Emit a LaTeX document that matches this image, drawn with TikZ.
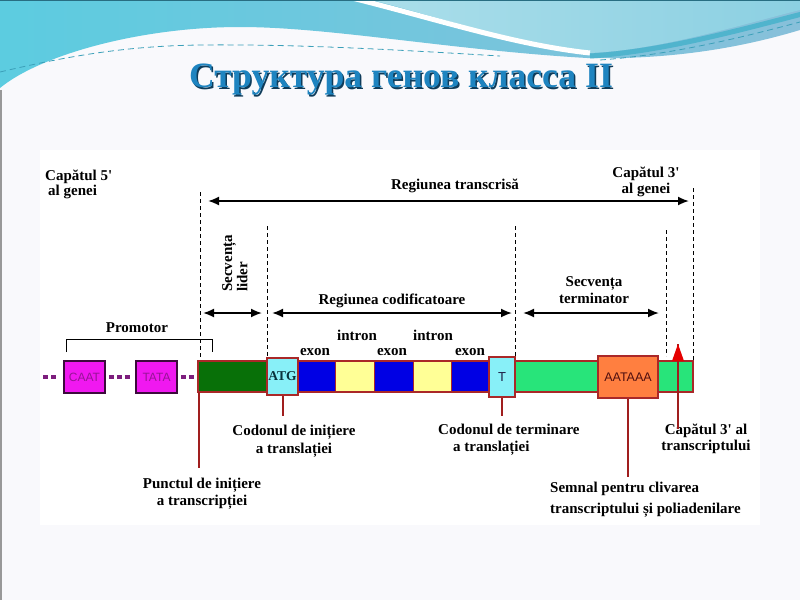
\documentclass[tikz,border=0pt]{standalone}
\usepackage{fontspec}
\setmainfont{Liberation Serif}[Ligatures=TeXOff]
\newfontfamily\sansf{Liberation Sans}
\usetikzlibrary{arrows.meta}
\definecolor{bgcol}{RGB}{249,249,252}
\definecolor{tealA}{RGB}{92,204,224}
\definecolor{tealB}{RGB}{136,192,218}
\definecolor{lcyanA}{RGB}{170,222,234}
\definecolor{lcyanB}{RGB}{140,208,226}
\definecolor{stripe}{RGB}{80,180,205}
\definecolor{dashteal}{RGB}{60,160,185}
\definecolor{topline}{RGB}{40,110,130}
\definecolor{titleblue}{RGB}{30,132,192}
\definecolor{titleshadow}{RGB}{15,60,90}
\definecolor{barred}{RGB}{170,40,40}
\definecolor{linkred}{RGB}{160,30,30}
\definecolor{dkgreen}{RGB}{8,112,8}
\definecolor{exblue}{RGB}{0,0,228}
\definecolor{inyellow}{RGB}{255,255,150}
\definecolor{codcyan}{RGB}{136,240,248}
\definecolor{brgreen}{RGB}{40,228,122}
\definecolor{sigorange}{RGB}{255,127,64}
\definecolor{magbox}{RGB}{240,24,240}
\definecolor{magtext}{RGB}{150,20,150}
\definecolor{dashpurple}{RGB}{125,30,125}
\definecolor{magborder}{RGB}{60,10,60}
\tikzset{
  lab/.style={font=\bfseries\fontsize{15}{17}\selectfont, inner sep=0pt, text=black},
  vdash/.style={draw=black, line width=0.8pt, dash pattern=on 4pt off 3pt},
  dimarrow/.style={draw=black, line width=1.8pt, {Latex[length=11pt,width=9pt]}-{Latex[length=11pt,width=9pt]}},
  link/.style={draw=linkred, line width=2pt},
  segm/.style={draw=barred, line width=1pt},
  codbox/.style={draw=barred, line width=2pt, inner sep=0pt},
  promobox/.style={draw=magborder, line width=1.5pt, fill=magbox, inner sep=0pt, minimum width=41pt, minimum height=32pt, text=magtext, font=\sansf\fontsize{12}{14}\selectfont},
  promdash/.style={draw=dashpurple, line width=3.5pt, dash pattern=on 5pt off 3pt}
}
\begin{document}
\begin{tikzpicture}[x=1pt,y=-1pt]
\useasboundingbox (0,0) rectangle (800,600);
% background
\fill[bgcol] (0,0) rectangle (800,600);
\fill[white] (40,150) rectangle (760,525);
\draw[gray!80, line width=2pt] (1,90) -- (1,600);
% top wave
\shade[left color=tealA, right color=tealB] (0,0) -- (800,0) -- (800,30)
  .. controls (750,45) and (680,60) .. (587,58)
  .. controls (450,50) and (330,27) .. (240,27)
  .. controls (140,27) and (40,55) .. (0,88) -- cycle;
\shade[left color=lcyanA, right color=lcyanB] (372,0) -- (800,0) -- (800,10)
  .. controls (740,25) and (660,50) .. (590,53)
  .. controls (520,45) and (450,20) .. (372,0) -- cycle;
\draw[white, line width=5pt] (352,-2) .. controls (440,20) and (515,45) .. (590,53);
\draw[stripe, line width=5pt] (590,56) .. controls (660,52) and (740,30) .. (802,14);
\draw[dashteal, line width=0.8pt, dash pattern=on 6pt off 4pt] (0,72) .. controls (60,58) and (120,46) .. (200,45) .. controls (300,44) and (400,50) .. (500,56);
\draw[dashteal, line width=0.8pt, dash pattern=on 6pt off 4pt] (600,60) .. controls (670,55) and (740,38) .. (800,22);
\draw[topline, line width=1.5pt] (0,0.5) -- (800,0.5);
% title
\node[font=\bfseries\fontsize{35.6}{40}\selectfont, text=titleshadow] (titlesh) at (402.5,81.5) {Структура генов класса II};
\node[font=\bfseries\fontsize{35.6}{40}\selectfont, text=titleblue] (title) at (401,80) {Структура генов класса II};

% header labels
\node[lab, align=left, anchor=north west, font=\bfseries\fontsize{15}{15}\selectfont] (cap5) at (45,169.5) {Capătul 5'\\\hspace{3pt}al genei};
\node[lab, align=center, anchor=north, font=\bfseries\fontsize{15}{16}\selectfont] (cap3) at (646,166.5) {Capătul 3'\\al genei};
\node[lab, anchor=base] (transc) at (455,189) {Regiunea transcrisă};
\node[lab, rotate=90, align=left, anchor=north west, font=\bfseries\fontsize{15}{13}\selectfont] (lider) at (222,292) {Secvența\\lider};
\node[lab, anchor=base] (codif) at (392,304) {Regiunea codificatoare};
\node[lab, align=center, anchor=north, font=\bfseries\fontsize{15}{17}\selectfont] (term) at (594,276.5) {Secvența\\terminator};
\node[lab, anchor=base] (promo) at (137,332) {Promotor};

% vertical dashed lines
\coordinate (v1t) at (200,192); \coordinate (v1b) at (200,358);
\coordinate (v2t) at (267,226); \coordinate (v2b) at (267,358);
\coordinate (v3t) at (515,226); \coordinate (v3b) at (515,357);
\coordinate (v4t) at (666,230); \coordinate (v4b) at (666,356);
\coordinate (v5t) at (693,188); \coordinate (v5b) at (693,361);
\draw[vdash] (v1t) -- (v1b);
\draw[vdash] (v2t) -- (v2b);
\draw[vdash] (v3t) -- (v3b);
\draw[vdash] (v4t) -- (v4b);
\draw[vdash] (v5t) -- (v5b);

% dimension arrows
\coordinate (a1l) at (208,201); \coordinate (a1r) at (689,201);
\coordinate (a2l) at (203,313); \coordinate (a2r) at (262,313);
\coordinate (a3l) at (272,313); \coordinate (a3r) at (512,313);
\coordinate (a4l) at (523,313); \coordinate (a4r) at (659,313);
\draw[dimarrow] (a1l) -- (a1r);
\draw[dimarrow] (a2l) -- (a2r);
\draw[dimarrow] (a3l) -- (a3r);
\draw[dimarrow] (a4l) -- (a4r);

% promoter bracket
\coordinate (pb1) at (66,352); \coordinate (pb2) at (66,339);
\coordinate (pb3) at (212,339); \coordinate (pb4) at (212,352);
\draw[black, line width=1pt] (pb1) -- (pb2) -- (pb3) -- (pb4);

% promoter elements
\node[promobox] (caat) at (84.5,377) {CAAT};
\node[promobox] (tata) at (156.5,377) {TATA};
\coordinate (d0) at (43,377);
\coordinate (d3) at (194,377);
\draw[promdash] (d0) -- ([xshift=-7pt]caat.west);
\draw[promdash] ([xshift=3pt]caat.east) -- ([xshift=-5pt]tata.west);
\draw[promdash] ([xshift=3pt]tata.east) -- (d3);

% gene bar
\filldraw[segm, fill=brgreen] (489,361) rectangle (693,392);
\filldraw[segm, fill=dkgreen] (198,361) rectangle (267,392);
\filldraw[segm, fill=exblue] (298,361) rectangle (335,392);
\filldraw[segm, fill=inyellow] (335,361) rectangle (374,392);
\filldraw[segm, fill=exblue] (374,361) rectangle (413,392);
\filldraw[segm, fill=inyellow] (413,361) rectangle (451,392);
\filldraw[segm, fill=exblue] (451,361) rectangle (489,392);
\draw[barred, line width=2pt] (198,361) rectangle (693,392);

\node[codbox, fill=codcyan, minimum width=31pt, minimum height=37pt, font=\bfseries\fontsize{13.5}{16}\selectfont, text={rgb,255:red,10;green,50;blue,60}] (atg) at (282.5,376.5) {ATG};
\node[codbox, fill=codcyan, minimum width=26pt, minimum height=40pt, font=\sansf\fontsize{13}{15}\selectfont, text={rgb,255:red,30;green,30;blue,70}] (tbox) at (502,377) {T};
\node[codbox, fill=sigorange, minimum width=60pt, minimum height=42pt, font=\sansf\fontsize{12.5}{15}\selectfont, text={rgb,255:red,80;green,15;blue,15}] (aataaa) at (628,377) {AATAAA};

% exon / intron labels
\node[lab, anchor=base] (ex1) at (315,355) {exon};
\node[lab, anchor=base] (ex2) at (392,355) {exon};
\node[lab, anchor=base] (ex3) at (470,355) {exon};
\node[lab, anchor=base] (in1) at (357,340) {intron};
\node[lab, anchor=base] (in2) at (433,340) {intron};

% bottom labels
\node[lab, align=center, anchor=north, font=\bfseries\fontsize{15}{17}\selectfont] (punct) at (202,478) {Punctul de inițiere\\a transcripției};
\node[lab, align=center, anchor=north, font=\bfseries\fontsize{15}{18}\selectfont] (codi) at (294,424.5) {Codonul de inițiere\\a translației};
\node[lab, align=left, anchor=north west, font=\bfseries\fontsize{15}{17}\selectfont] (codt) at (438,423.5) {Codonul de terminare\\\hspace{15pt}a translației};
\node[lab, align=center, anchor=north, font=\bfseries\fontsize{15}{16}\selectfont] (cap3t) at (706,423.5) {Capătul 3' al\\transcriptului};
\node[lab, align=left, anchor=north west, font=\bfseries\fontsize{15}{21}\selectfont] (semn) at (550,482) {Semnal pentru clivarea\\transcriptului și poliadenilare};

% connectors
\coordinate (pstart) at (199,392);
\coordinate (pend) at (199,468);
\draw[link] (pstart) -- (pend);
\draw[link, shorten >=9pt] (atg.south) -- (atg.south |- codi.north);
\draw[link, shorten >=8pt] (tbox.south) -- (tbox.south |- codt.north);
\draw[link, shorten >=5pt] (aataaa.south) -- (aataaa.south |- semn.north);
\coordinate (tri) at (678,344);
\draw[link] (tri) -- ([yshift=-5pt]tri |- cap3t.north);
\fill[red!90!black] (672,361) -- (tri) -- (684,361) -- cycle;
\end{tikzpicture}
\end{document}
